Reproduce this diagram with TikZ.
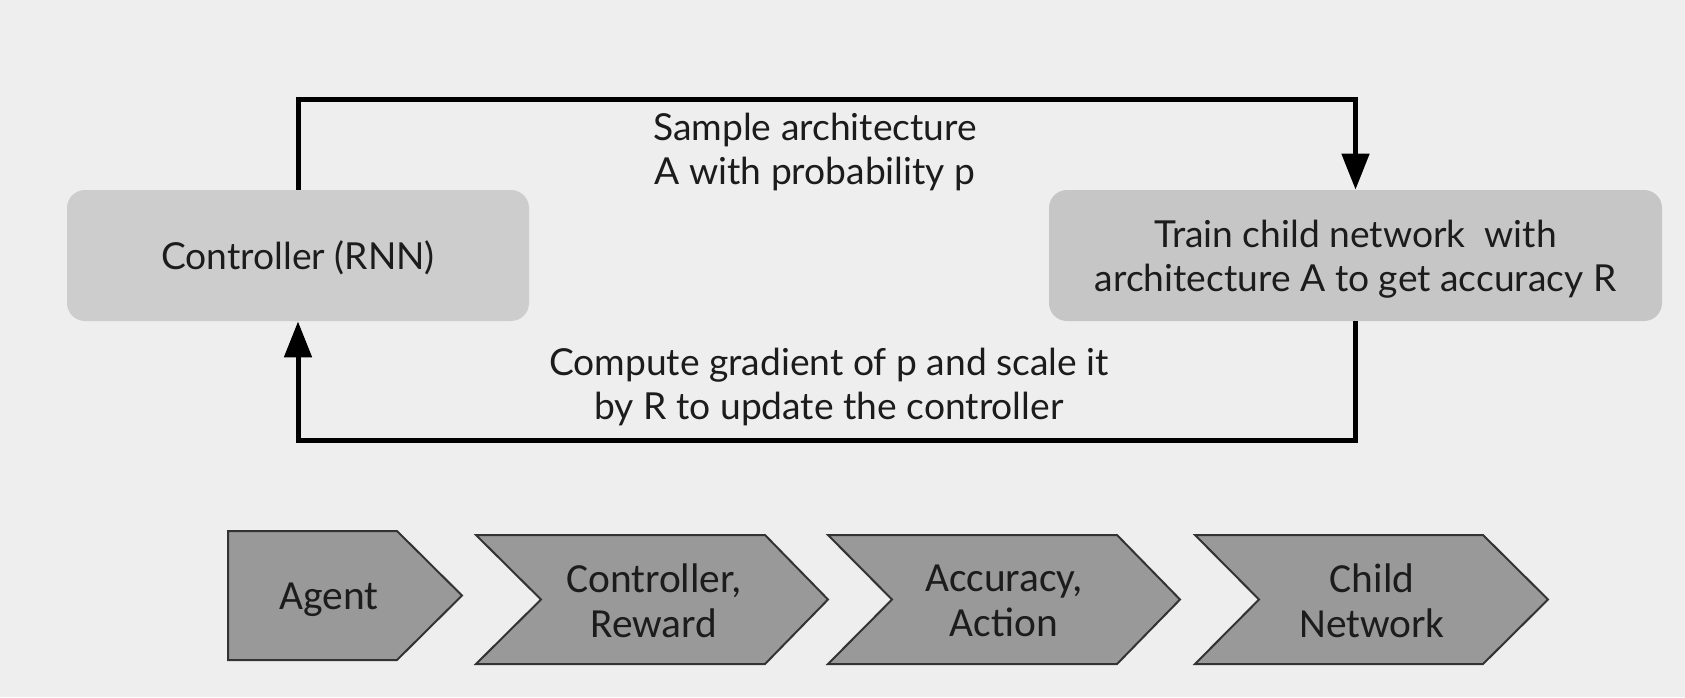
\documentclass[tikz,border=0pt]{standalone}
\usepackage{fontspec}
\setmainfont{Lato}
\newfontfamily\chevfont{Carlito}
\usetikzlibrary{arrows.meta}
\definecolor{bg}{HTML}{EEEEEE}
\definecolor{boxa}{HTML}{CDCDCD}
\definecolor{boxb}{HTML}{C6C6C6}
\definecolor{chev}{HTML}{999999}
\definecolor{chevline}{HTML}{333333}
\definecolor{ink}{HTML}{1C1C1C}
\tikzset{
  roundbox/.style={fill=#1, draw=none, rounded corners=9pt, minimum height=65.5pt,
    inner sep=0pt},
  lbl/.style={align=center, inner sep=0pt, text=ink, font=\fontsize{18.6pt}{22pt}\selectfont},
  conn/.style={line width=2.5pt, draw=black, -{Triangle[length=18pt,width=13.5pt]}},
  chevshape/.style={fill=chev, draw=chevline, line width=1pt, line join=miter},
  chevtext/.style={align=center, inner sep=0pt, text=ink, font=\chevfont\fontsize{20.7pt}{22.5pt}\selectfont},
}
\begin{document}
\begin{tikzpicture}[x=0.5pt,y=-0.5pt]
\useasboundingbox[fill=bg] (0,0) rectangle (1685,697);

% top boxes
\node[roundbox=boxa, minimum width=231pt] (ctrl) at (298,255.5) {};
\node[roundbox=boxb, minimum width=306.5pt] (train) at (1355.5,255.5) {};
\node[lbl] (ctrltext) at ([yshift=-1.1pt]ctrl.center) {Controller (RNN)};
\node[lbl] (traintext) at ([yshift=-1.8pt]train.center) {Train child network\ \ with\\architecture A to get accuracy R};

% loop connectors
\draw[conn] (ctrl.north) -- (ctrl.north |- 0,99) -| (train.north);
\draw[conn] (train.south) -- (train.south |- 0,440) -| (ctrl.south);

% connector labels
\node[lbl] (samp) at (815,152) {Sample architecture\\A with probability p};
\node[lbl] (grad) at (829,387) {Compute gradient of p and scale it\\by R to update the controller};

% chevrons
\draw[chevshape] (228,531) -- (397,531) -- (462,595.5) -- (397,660) -- (228,660) -- cycle;
\draw[chevshape] (476,535) -- (765,535) -- (828,599.5) -- (765,664) -- (476,664) -- (541,599.5) -- cycle;
\draw[chevshape] (828,535) -- (1117,535) -- (1180,599.5) -- (1117,664) -- (828,664) -- (892,599.5) -- cycle;
\draw[chevshape] (1195,535) -- (1483,535) -- (1548,599.5) -- (1483,664) -- (1195,664) -- (1259,599.5) -- cycle;

\node[chevtext] (agent) at (329,600) {Agent};
\node[chevtext] (creward) at (654,601) {Controller,\\Reward};
\node[chevtext] (aaction) at (1004,601) {Accuracy,\\Action};
\node[chevtext] (childnet) at (1372,601) {Child\\Network};
\end{tikzpicture}
\end{document}
